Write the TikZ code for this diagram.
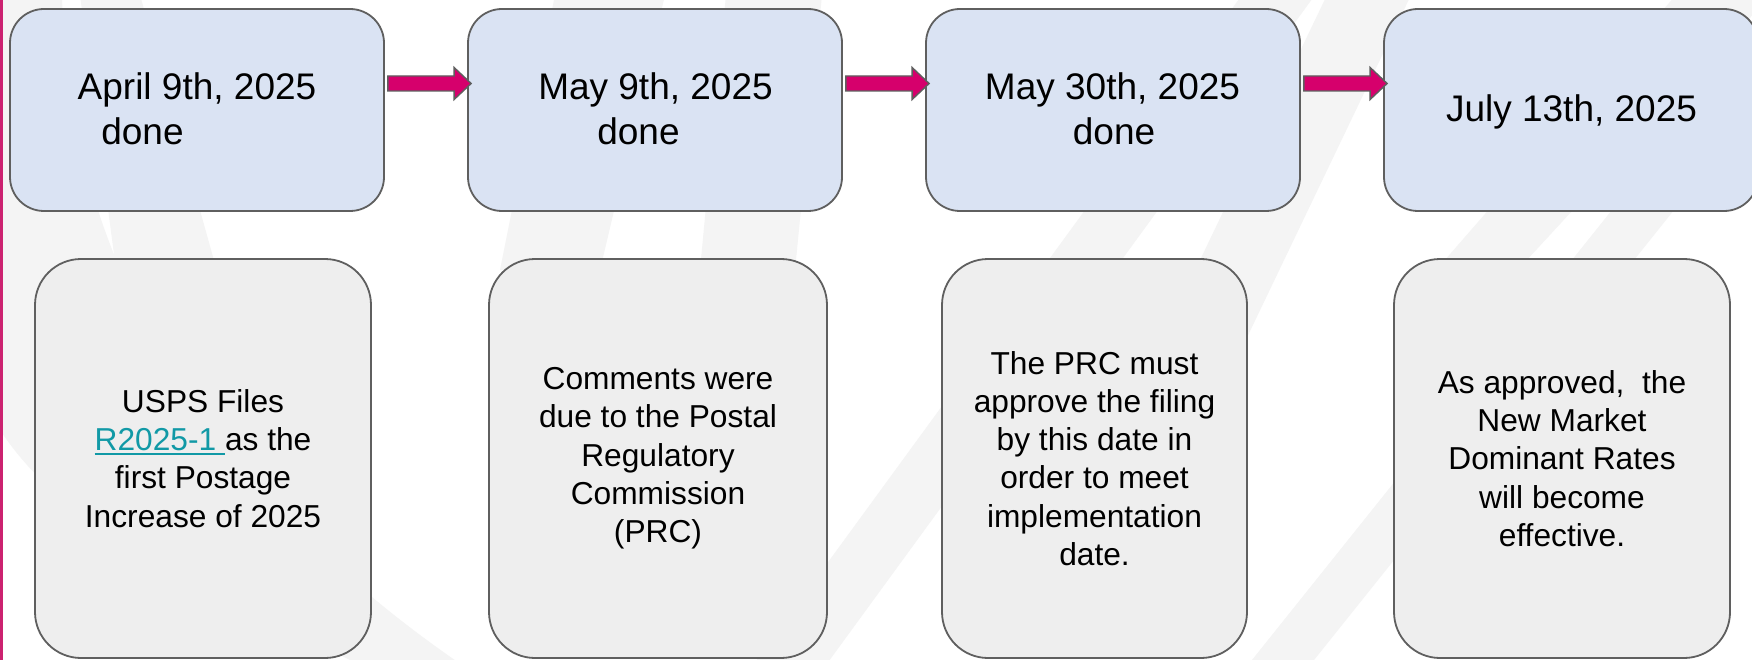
\documentclass[tikz,border=0pt]{standalone}
\usepackage{fontspec}
\setmainfont{Liberation Sans}
\usetikzlibrary{calc}

\definecolor{datefill}{RGB}{218,227,243}
\definecolor{notefill}{RGB}{238,238,238}
\definecolor{edge}{RGB}{95,95,95}
\definecolor{accent}{RGB}{214,0,108}
\definecolor{stripe}{RGB}{244,244,244}
\definecolor{rail}{RGB}{204,34,112}
\definecolor{link}{RGB}{17,153,166}

% underlined hyperlink-style word
\newcommand\linkword[1]{\textcolor{link}{\setbox0\hbox{#1}\rlap{\rule[-4.5pt]{\wd0}{2pt}}\box0}}

\tikzset{
  datebox/.style={draw=edge, line width=1.8pt, fill=datefill, rounded corners=34pt,
    minimum width=374pt, minimum height=202pt, inner sep=0pt},
  notebox/.style={draw=edge, line width=1.8pt, fill=notefill, rounded corners=46pt,
    minimum height=399pt, inner sep=0pt},
  datetext/.style={anchor=base, inner sep=0pt, font=\fontsize{37}{45}\selectfont},
  notetext/.style={align=center, inner sep=0pt, font=\fontsize{31.7}{38.3}\selectfont},
  flow/.style={draw=edge, line width=1.4pt, fill=accent, line join=miter},
  band/.style={fill=stripe},
}

% block arrow from the east side of one box to the west side of the next
\newcommand\flowarrow[2]{%
  \draw[flow] let \p1=(#1.east), \p2=(#2.west) in
    (\x1+3pt,\y1+34pt) -- (\x2-13pt,\y1+34pt) -- (\x2-13pt,\y1+42.5pt)
    -- (\x2+4pt,\y1+26.5pt) -- (\x2-13pt,\y1+10.5pt) -- (\x2-13pt,\y1+19pt)
    -- (\x1+3pt,\y1+19pt) -- cycle;}

\begin{document}
\begin{tikzpicture}[x=1pt,y=-1pt]
  \clip (0,0) rectangle (1752,660);
  \fill[white] (0,0) rectangle (1752,660);

  % faint background stripes
  \fill[band] (0,-5) -- (62,-5) .. controls (68,300) and (250,520) .. (462,665)
    -- (360,665) .. controls (150,560) and (60,520) .. (0,430) -- cycle;
  \fill[band] (80,-5) -- (140,-5) -- (225,300) -- (120,300) -- cycle;
  \fill[band] (555,-5) -- (665,-5) -- (600,270) -- (500,270) -- cycle;
  \fill[band] (726,-5) -- (822,-5) -- (795,270) -- (700,270) -- cycle;
  \fill[band] (1242,-5) -- (1315,-5) -- (826,665) -- (753,665) -- cycle;
  \fill[band] (1327,-5) -- (1411,-5) -- (1217,400) -- (1133,400) -- cycle;
  \fill[band] (1676,-5) -- (1771,-5) -- (1490,300) -- (1410,300) -- cycle;
  \fill[band] (1784,-5) -- (1846,-5) -- (1310,665) -- (1248,665) -- cycle;

  % accent rail on the left edge
  \fill[rail] (0,0) rectangle (2.8,660);

  % date boxes
  \node[datebox] (d1) at (197,110) {};
  \node[datebox] (d2) at (655,110) {};
  \node[datebox] (d3) at (1113,110) {};
  \node[datebox] (d4) at (1571,110) {};

  % description boxes
  \node[notebox, minimum width=336pt] (n1) at (203,458.5) {};
  \node[notebox, minimum width=338pt] (n2) at (658,458.5) {};
  \node[notebox, minimum width=305pt] (n3) at (1094.5,458.5) {};
  \node[notebox, minimum width=336pt] (n4) at (1562,458.5) {};

  % arrows between dates
  \flowarrow{d1}{d2}
  \flowarrow{d2}{d3}
  \flowarrow{d3}{d4}

  % date labels
  \node[datetext] (t1a) at (197,100) {April 9th, 2025};
  \node[datetext] (t1b) at (142.5,145) {done};
  \node[datetext] (t2a) at (655.5,100) {May 9th, 2025};
  \node[datetext] (t2b) at (638.5,145) {done};
  \node[datetext] (t3a) at (1112.5,100) {May 30th, 2025};
  \node[datetext] (t3b) at (1114,145) {done};
  \node[datetext] (t4a) at (1571.5,122) {July 13th, 2025};

  % descriptions
  \node[notetext] (m1) at (n1.center) {USPS Files\\\linkword{R2025-1\ }as the\\first Postage\\Increase of 2025};
  \node[notetext] (m2) at (n2.center) {Comments were\\due to the Postal\\Regulatory\\Commission\\(PRC)};
  \node[notetext] (m3) at (n3.center) {The PRC must\\approve the filing\\by this date in\\order to meet\\implementation\\date.};
  \node[notetext] (m4) at (n4.center) {As approved,~ the\\New Market\\Dominant Rates\\will become\\effective.};
\end{tikzpicture}
\end{document}
